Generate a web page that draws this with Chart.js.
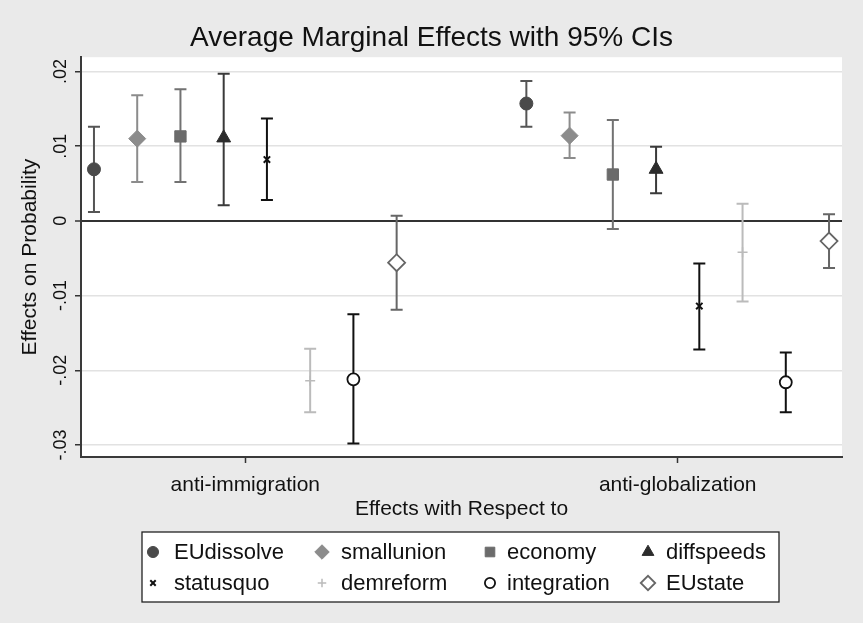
<!DOCTYPE html>
<html>
<head>
<meta charset="utf-8">
<title>Average Marginal Effects with 95% CIs</title>
<script src="https://cdn.jsdelivr.net/npm/chart.js@4.4.1/dist/chart.umd.min.js"></script>
<style>
  html, body { margin: 0; padding: 0; background: #eaeaea; }
  canvas { display: block; }
</style>
</head>
<body>
<canvas id="mfx" width="863" height="623"></canvas>
<script>
// --- DATA ---

const categories = ['anti-immigration', 'anti-globalization'];
const outcomes = ['EUdissolve', 'smallunion', 'economy', 'diffspeeds', 'statusquo', 'demreform', 'integration', 'EUstate'];

// point estimates and 95% CI bounds, one value per outcome (same order as outcomes)
const estImmigration = [0.0069, 0.0110, 0.0113, 0.0111, 0.0082, -0.0214, -0.0212, -0.0056];
const lowImmigration = [0.0012, 0.0052, 0.0052, 0.0021, 0.0028, -0.0256, -0.0298, -0.0119];
const highImmigration = [0.0126, 0.0168, 0.0176, 0.0197, 0.0137, -0.0171, -0.0125, 0.0007];

const estGlobalization = [0.0157, 0.0114, 0.0062, 0.0069, -0.0114, -0.0042, -0.0216, -0.0027];
const lowGlobalization = [0.0126, 0.0084, -0.0011, 0.0037, -0.0172, -0.0108, -0.0256, -0.0063];
const highGlobalization = [0.0187, 0.0145, 0.0135, 0.0099, -0.0057, 0.0023, -0.0176, 0.0009];

const yTickValues = [-0.03, -0.02, -0.01, 0, 0.01, 0.02];
const yTickLabels = ['-.03', '-.02', '-.01', '0', '.01', '.02'];

// --- STYLES ---

const FONT = '"Liberation Sans", Arial, sans-serif';

const markerStyles = [
  { pointStyle: 'circle',   radius: 6.5, fill: '#4a4a4a', line: '#4a4a4a', width: 1,   bar: '#555555' },
  { pointStyle: 'rectRot',  radius: 8.5, fill: '#8c8c8c', line: '#8c8c8c', width: 1,   bar: '#8c8c8c' },
  { pointStyle: 'rect',     radius: 8,   fill: '#6b6b6b', line: '#6b6b6b', width: 1,   bar: '#727272' },
  { pointStyle: 'triangle', radius: 8,   fill: '#2c2c2c', line: '#2c2c2c', width: 1,   bar: '#3a3a3a' },
  { pointStyle: 'crossRot', radius: 4.5, fill: '#111111', line: '#111111', width: 2,   bar: '#111111' },
  { pointStyle: 'cross',    radius: 5,   fill: '#bbbbbb', line: '#bbbbbb', width: 1.5, bar: '#bbbbbb' },
  { pointStyle: 'circle',   radius: 6,   fill: '#ffffff', line: '#111111', width: 1.8, bar: '#111111' },
  { pointStyle: 'rectRot',  radius: 8.5, fill: '#ffffff', line: '#666666', width: 1.8, bar: '#666666' }
];

const estimates = [estImmigration, estGlobalization];
const lows = [lowImmigration, lowGlobalization];
const highs = [highImmigration, highGlobalization];

// each category sits at 0, 10, ...; outcomes are dodged one unit apart around it
const datasets = outcomes.map((name, i) => {
  const s = markerStyles[i];
  return {
    label: name,
    data: categories.map((c, g) => ({
      x: g * 10 + i - 3.5,
      y: estimates[g][i],
      lo: lows[g][i],
      hi: highs[g][i]
    })),
    pointStyle: s.pointStyle,
    pointRadius: s.radius,
    backgroundColor: s.fill,
    borderColor: s.line,
    borderWidth: s.width,
    barColor: s.bar
  };
});

// --- PLUGINS ---

const plotBackground = {
  id: 'plotBackground',
  beforeDraw(chart) {
    const { ctx, chartArea: a } = chart;
    ctx.save();
    ctx.fillStyle = '#eaeaea';
    ctx.fillRect(0, 0, chart.width, chart.height);
    ctx.fillStyle = '#ffffff';
    ctx.fillRect(a.left, a.top, a.right - a.left, a.bottom - a.top);
    ctx.restore();
  }
};

const errorBars = {
  id: 'errorBars',
  beforeDatasetsDraw(chart) {
    const { ctx, scales: { x, y } } = chart;
    ctx.save();
    ctx.lineWidth = 2;
    chart.data.datasets.forEach(ds => {
      ctx.strokeStyle = ds.barColor;
      ds.data.forEach(pt => {
        const px = x.getPixelForValue(pt.x);
        const top = y.getPixelForValue(pt.hi);
        const bot = y.getPixelForValue(pt.lo);
        ctx.beginPath();
        ctx.moveTo(px, top); ctx.lineTo(px, bot);
        ctx.moveTo(px - 6, top); ctx.lineTo(px + 6, top);
        ctx.moveTo(px - 6, bot); ctx.lineTo(px + 6, bot);
        ctx.stroke();
      });
    });
    ctx.restore();
  }
};

// Stata-style boxed legend, 4 columns x 2 rows
const boxLegend = {
  id: 'boxLegend',
  afterDraw(chart) {
    const ctx = chart.ctx;
    const box = { left: 142, top: 532, right: 779, bottom: 602 };
    const markerX = [153, 322, 490, 648];
    const textX = [174, 341, 507, 666];
    const rowY = [552, 583];
    ctx.save();
    ctx.fillStyle = '#ffffff';
    ctx.fillRect(box.left, box.top, box.right - box.left, box.bottom - box.top);
    ctx.strokeStyle = '#222222';
    ctx.lineWidth = 1.3;
    ctx.strokeRect(box.left, box.top, box.right - box.left, box.bottom - box.top);

    chart.data.datasets.forEach((ds, i) => {
      const col = i % 4, row = Math.floor(i / 4);
      const s = markerStyles[i];
      ctx.fillStyle = s.fill;
      ctx.strokeStyle = s.line;
      ctx.lineWidth = s.width;
      Chart.helpers.drawPoint(ctx, {
        pointStyle: s.pointStyle,
        radius: s.radius * 0.85,
        rotation: 0,
        borderWidth: s.width
      }, markerX[col], rowY[row]);
      ctx.fillStyle = '#111111';
      ctx.font = '22px ' + FONT;
      ctx.textAlign = 'left';
      ctx.textBaseline = 'middle';
      ctx.fillText(ds.label, textX[col], rowY[row] + 1);
    });
    ctx.restore();
  }
};

// --- CHART ---

new Chart(document.getElementById('mfx'), {
  type: 'scatter',
  data: { datasets: datasets },
  plugins: [plotBackground, errorBars, boxLegend],
  options: {
    responsive: false,
    animation: false,
    devicePixelRatio: 1,
    layout: { padding: { top: 0.6, left: 0, right: 0, bottom: 101 } },
    plugins: {
      legend: { display: false },
      tooltip: { enabled: false },
      title: {
        display: true,
        text: 'Average Marginal Effects with 95% CIs',
        color: '#111111',
        font: { family: FONT, size: 28, weight: 'normal' },
        padding: { top: 21, bottom: 2 }
      }
    },
    scales: {
      x: {
        type: 'linear',
        min: -3.8,
        max: 13.8,
        afterBuildTicks: scale => {
          scale.ticks = categories.map((c, g) => ({ value: g * 10 }));
        },
        afterFit: scale => { scale.height = 65; },
        ticks: {
          callback: value => categories[Math.round(value / 10)],
          color: '#111111',
          font: { family: FONT, size: 21 },
          padding: 10,
          maxRotation: 0,
          minRotation: 0,
          autoSkip: false
        },
        grid: { drawOnChartArea: false, drawTicks: true, tickLength: 6, tickColor: '#333333', tickWidth: 1.5 },
        border: { display: true, color: '#3a3a3a', width: 2 },
        title: {
          display: true,
          text: 'Effects with Respect to',
          color: '#111111',
          font: { family: FONT, size: 21 },
          padding: { top: 0, bottom: 0 }
        }
      },
      y: {
        min: -0.0316,
        max: 0.0219,
        afterBuildTicks: scale => {
          scale.ticks = yTickValues.map(v => ({ value: v }));
        },
        afterFit: scale => { scale.width = 81; },
        ticks: {
          callback: value => yTickLabels[yTickValues.indexOf(value)],
          color: '#111111',
          font: { family: FONT, size: 18 },
          minRotation: 90,
          maxRotation: 90,
          crossAlign: 'center',
          padding: -2
        },
        grid: {
          color: c => (c.tick && c.tick.value === 0 ? '#333333' : '#e2e2e2'),
          lineWidth: c => (c.tick && c.tick.value === 0 ? 2 : 1.5),
          tickColor: '#333333',
          tickLength: 6,
          tickWidth: 1.5
        },
        border: { display: true, color: '#3a3a3a', width: 2 },
        title: {
          display: true,
          text: 'Effects on Probability',
          color: '#111111',
          font: { family: FONT, size: 21 },
          padding: { top: 18, bottom: 0 }
        }
      },
      // empty right-hand margin, so the title centres on the whole page
      margin: {
        position: 'right',
        display: true,
        ticks: { display: false },
        grid: { display: false, drawTicks: false },
        border: { display: false },
        afterFit: scale => { scale.width = 21; }
      }
    }
  }
});
</script>
</body>
</html>
